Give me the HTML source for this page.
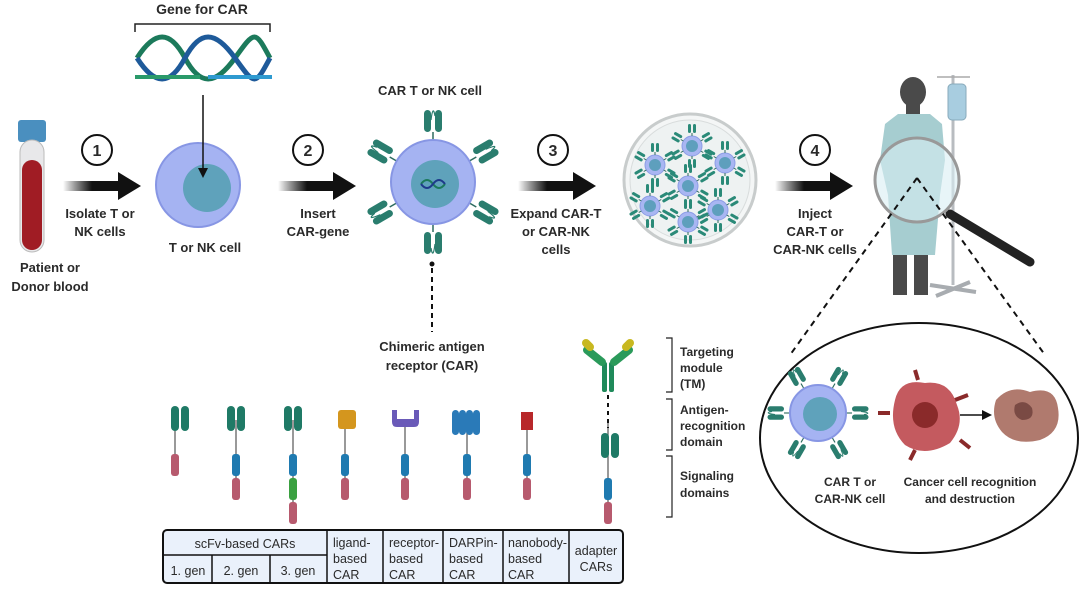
<!DOCTYPE html>
<html><head><meta charset="utf-8"><style>
body{margin:0;background:#fff}
svg text{font-family:"Liberation Sans",sans-serif;font-weight:bold;fill:#2a2a2a}
</style></head><body>
<svg width="1080" height="587" viewBox="0 0 1080 587" xmlns="http://www.w3.org/2000/svg">
<defs>
<linearGradient id="ag" x1="0" x2="1"><stop offset="0" stop-color="#000" stop-opacity="0"/><stop offset="0.5" stop-color="#111"/><stop offset="1" stop-color="#111"/></linearGradient>
<g id="arr"><rect x="0" y="-5" width="58" height="10" fill="url(#ag)"/><polygon points="55,-14 78,0 55,14" fill="#111"/></g>
<g id="rec"><line x1="0" y1="0" x2="0" y2="-8" stroke="#2d6b5f" stroke-width="1.5"/><rect x="-9" y="-30" width="7" height="22" rx="3.5" fill="#2a7d6e"/><rect x="2" y="-30" width="7" height="22" rx="3.5" fill="#2a7d6e"/><path d="M-2,-20 Q0,-36 2,-24" stroke="#2a7d6e" fill="none" stroke-width="1.2"/></g>
<g id="srec"><line x1="0" y1="0" x2="0" y2="-3" stroke="#2d6b5f"/><rect x="-4" y="-12" width="3" height="9" rx="1.5" fill="#2a8a78"/><rect x="1" y="-12" width="3" height="9" rx="1.5" fill="#2a8a78"/></g>
<g id="mini"><circle r="10" fill="#a8b6f2" stroke="#8c9ce6"/><circle r="6" fill="#5e9fbd"/><use href="#srec" transform="translate(0,-10)"/><use href="#srec" transform="rotate(60) translate(0,-10)"/><use href="#srec" transform="rotate(120) translate(0,-10)"/><use href="#srec" transform="rotate(180) translate(0,-10)"/><use href="#srec" transform="rotate(240) translate(0,-10)"/><use href="#srec" transform="rotate(300) translate(0,-10)"/></g>
</defs>

<!-- blood tube -->
<rect x="18" y="120" width="28" height="22" rx="3" fill="#4a8fbf"/>
<rect x="20" y="140" width="24" height="112" rx="12" fill="#e8e8ea" stroke="#bbb"/>
<rect x="22" y="160" width="20" height="90" rx="10" fill="#a01c24"/>
<text x="50" y="272" font-size="13" text-anchor="middle">Patient or</text>
<text x="50" y="291" font-size="13" text-anchor="middle">Donor blood</text>

<!-- step 1 -->
<circle cx="97" cy="150" r="15" fill="#fff" stroke="#111" stroke-width="2"/><text x="97" y="156" font-size="16" font-weight="normal" text-anchor="middle">1</text>
<use href="#arr" transform="translate(63,186)"/>
<text x="100" y="218" font-size="13" text-anchor="middle">Isolate T or</text>
<text x="100" y="236" font-size="13" text-anchor="middle">NK cells</text>

<!-- gene -->
<text x="202" y="14" font-size="14" text-anchor="middle">Gene for CAR</text>
<path d="M135,32 V24 H270 V32" fill="none" stroke="#222" stroke-width="1.5"/>
<path d="M137,58 C155,30 170,30 185,58 S215,86 235,58 S255,30 270,58" stroke="#1c7a5b" stroke-width="5" fill="none"/>
<path d="M137,58 C155,86 170,86 185,58 S215,30 235,58 S255,86 270,58" stroke="#1e5a9a" stroke-width="5" fill="none"/>
<rect x="135" y="75" width="65" height="4" fill="#2a9a6a"/><rect x="208" y="75" width="64" height="4" fill="#2e9ad0"/>

<!-- T cell -->
<circle cx="198" cy="185" r="42" fill="#a5b3f2" stroke="#8796e4" stroke-width="2"/>
<circle cx="207" cy="188" r="24" fill="#5fa2bb"/>
<line x1="203" y1="95" x2="203" y2="172" stroke="#111" stroke-width="1.5"/><polygon points="198,168 208,168 203,178" fill="#111"/>
<text x="205" y="252" font-size="13" text-anchor="middle">T or NK cell</text>

<!-- step 2 -->
<circle cx="308" cy="150" r="15" fill="#fff" stroke="#111" stroke-width="2"/><text x="308" y="156" font-size="16" font-weight="normal" text-anchor="middle">2</text>
<use href="#arr" transform="translate(278,186)"/>
<text x="318" y="218" font-size="13" text-anchor="middle">Insert</text>
<text x="318" y="236" font-size="13" text-anchor="middle">CAR-gene</text>

<!-- CAR T cell -->
<text x="430" y="95" font-size="13" text-anchor="middle">CAR T or NK cell</text>
<g transform="translate(433,182)">
<use href="#rec" transform="translate(0,-42)"/>
<use href="#rec" transform="rotate(60) translate(0,-42)"/>
<use href="#rec" transform="rotate(120) translate(0,-42)"/>
<use href="#rec" transform="rotate(180) translate(0,-42)"/>
<use href="#rec" transform="rotate(240) translate(0,-42)"/>
<use href="#rec" transform="rotate(300) translate(0,-42)"/>
<circle r="42" fill="#a5b3f2" stroke="#8796e4" stroke-width="2"/>
<circle cx="2" cy="2" r="24" fill="#5fa2bb"/>
<path d="M-12,2 q6,-8 12,0 t12,0" stroke="#1c7a5b" stroke-width="2" fill="none"/><path d="M-12,2 q6,8 12,0 t12,0" stroke="#1e3a8a" stroke-width="2" fill="none"/>
</g>
<circle cx="432" cy="264" r="2.5" fill="#111"/>
<line x1="432" y1="268" x2="432" y2="332" stroke="#111" stroke-width="2" stroke-dasharray="5,4"/>
<text x="432" y="351" font-size="13" text-anchor="middle">Chimeric antigen</text>
<text x="432" y="370" font-size="13" text-anchor="middle">receptor (CAR)</text>

<!-- step 3 -->
<circle cx="553" cy="150" r="15" fill="#fff" stroke="#111" stroke-width="2"/><text x="553" y="156" font-size="16" font-weight="normal" text-anchor="middle">3</text>
<use href="#arr" transform="translate(518,186)"/>
<text x="556" y="218" font-size="13" text-anchor="middle">Expand CAR-T</text>
<text x="556" y="236" font-size="13" text-anchor="middle">or CAR-NK</text>
<text x="556" y="254" font-size="13" text-anchor="middle">cells</text>

<!-- petri -->
<circle cx="690" cy="180" r="66" fill="#f4f6f6" stroke="#c8cccc" stroke-width="3"/>
<circle cx="690" cy="180" r="60" fill="#eef2f2" stroke="#d8dcdc"/>
<use href="#mini" transform="translate(655,165)"/><use href="#mini" transform="translate(692,146)"/><use href="#mini" transform="translate(688,186)"/>
<use href="#mini" transform="translate(650,206)"/><use href="#mini" transform="translate(718,210)"/><use href="#mini" transform="translate(725,163)"/><use href="#mini" transform="translate(688,222)"/>

<!-- step 4 -->
<circle cx="815" cy="150" r="15" fill="#fff" stroke="#111" stroke-width="2"/><text x="815" y="156" font-size="16" font-weight="normal" text-anchor="middle">4</text>
<use href="#arr" transform="translate(775,186)"/>
<text x="815" y="218" font-size="13" text-anchor="middle">Inject</text>
<text x="815" y="236" font-size="13" text-anchor="middle">CAR-T or</text>
<text x="815" y="254" font-size="13" text-anchor="middle">CAR-NK cells</text>

<!-- patient -->
<line x1="953" y1="75" x2="953" y2="285" stroke="#b8bcc0" stroke-width="3"/>
<path d="M930,285 L976,292 M936,296 L970,282" stroke="#a8acb0" stroke-width="4"/>
<line x1="937" y1="77" x2="970" y2="77" stroke="#aaa" stroke-width="1.5"/>
<rect x="948" y="84" width="18" height="36" rx="4" fill="#a8cde0" stroke="#8ab"/>
<ellipse cx="913" cy="92" rx="13" ry="15" fill="#4a4a4a"/>
<rect x="906" y="103" width="14" height="12" fill="#4a4a4a"/>
<path d="M898,114 L930,114 L942,124 L945,160 L940,195 L935,255 L892,255 L888,195 L880,160 L885,124 Z" fill="#a6cdd0"/>
<rect x="893" y="255" width="14" height="40" fill="#4a4a4a"/><rect x="914" y="255" width="14" height="40" fill="#4a4a4a"/>
<line x1="950" y1="214" x2="1030" y2="262" stroke="#222" stroke-width="9" stroke-linecap="round"/>
<circle cx="917" cy="180" r="42" fill="#d8eef4" fill-opacity="0.6" stroke="#999" stroke-width="3"/>
<path d="M917,178 L790,355 M917,178 L1045,355" stroke="#111" stroke-width="2" stroke-dasharray="6,5"/>

<!-- ellipse -->
<ellipse cx="919" cy="438" rx="159" ry="115" fill="#fff" stroke="#111" stroke-width="2"/>
<g transform="translate(818,413)">
<use href="#rec" transform="rotate(-30) translate(0,-28) scale(0.75)"/>
<use href="#rec" transform="rotate(30) translate(0,-28) scale(0.75)"/>
<use href="#rec" transform="rotate(90) translate(0,-28) scale(0.75)"/>
<use href="#rec" transform="rotate(150) translate(0,-28) scale(0.75)"/>
<use href="#rec" transform="rotate(210) translate(0,-28) scale(0.75)"/>
<use href="#rec" transform="rotate(270) translate(0,-28) scale(0.75)"/>
<circle r="28" fill="#a5b3f2" stroke="#8796e4" stroke-width="2"/>
<circle cx="2" cy="1" r="17" fill="#5fa2bb"/>
</g>
<g stroke="#8a2a2a" stroke-width="4"><line x1="918" y1="380" x2="915" y2="370"/><line x1="955" y1="400" x2="968" y2="395"/><line x1="960" y1="440" x2="970" y2="448"/><line x1="915" y1="450" x2="910" y2="460"/><line x1="890" y1="413" x2="878" y2="413"/></g>
<path d="M895,400 Q900,378 925,383 Q950,380 957,405 Q965,425 950,443 Q925,458 905,445 Q888,428 895,400 Z" fill="#c45a5f"/>
<circle cx="925" cy="415" r="13" fill="#8a2a2a"/>
<line x1="960" y1="415" x2="985" y2="415" stroke="#111" stroke-width="1.5"/><polygon points="982,410 992,415 982,420" fill="#111"/>
<path d="M996,400 Q1010,384 1030,392 Q1055,385 1058,408 Q1062,432 1040,440 Q1015,446 1002,432 Q990,418 996,400 Z" fill="#b07a6e"/>
<path d="M1015,405 Q1025,398 1032,408 Q1035,420 1022,420 Q1012,416 1015,405Z" fill="#7a4a44"/>
<text x="850" y="486" font-size="12" text-anchor="middle">CAR T or</text>
<text x="850" y="503" font-size="12" text-anchor="middle">CAR-NK cell</text>
<text x="970" y="486" font-size="12" text-anchor="middle">Cancer cell recognition</text>
<text x="970" y="503" font-size="12" text-anchor="middle">and destruction</text>

<!-- brackets -->
<path d="M666,338 H672 V392 H666 M666,399 H672 V450 H666 M666,456 H672 V517 H666" fill="none" stroke="#222" stroke-width="1.2"/>
<g font-size="12"><text x="680" y="356">Targeting</text><text x="680" y="372">module</text><text x="680" y="388">(TM)</text>
<text x="680" y="414">Antigen-</text><text x="680" y="430">recognition</text><text x="680" y="446">domain</text>
<text x="680" y="480">Signaling</text><text x="680" y="497">domains</text></g>

<!-- CAR variants -->
<g stroke="#555" stroke-width="1.2">
<line x1="175" y1="420" x2="175" y2="455"/><line x1="236" y1="420" x2="236" y2="495"/><line x1="293" y1="420" x2="293" y2="520"/>
<line x1="345" y1="420" x2="345" y2="495"/><line x1="405" y1="420" x2="405" y2="495"/><line x1="467" y1="420" x2="467" y2="495"/><line x1="527" y1="420" x2="527" y2="495"/><line x1="608" y1="420" x2="608" y2="520"/>
</g>
<g fill="#1f7a66">
<rect x="171" y="406" width="8" height="25" rx="4"/><rect x="181" y="406" width="8" height="25" rx="4"/>
<rect x="227" y="406" width="8" height="25" rx="4"/><rect x="237" y="406" width="8" height="25" rx="4"/>
<rect x="284" y="406" width="8" height="25" rx="4"/><rect x="294" y="406" width="8" height="25" rx="4"/>
<rect x="601" y="433" width="8" height="25" rx="4"/><rect x="611" y="433" width="8" height="25" rx="4"/>
</g>
<rect x="338" y="410" width="18" height="19" rx="3" fill="#d4961e"/>
<path d="M392,410 v12 q0,5 5,5 h17 q5,0 5,-5 v-12 h-5 v9 h-17 v-9z" fill="#6a5ab8"/>
<g fill="#2a7ab8"><rect x="452" y="410" width="7" height="25" rx="3.5"/><rect x="459" y="410" width="7" height="25" rx="3.5"/><rect x="466" y="410" width="7" height="25" rx="3.5"/><rect x="473" y="410" width="7" height="25" rx="3.5"/></g>
<path d="M521,412 h12 v18 h-12z" fill="#b8282a"/>
<g fill="#1f7ab0">
<rect x="232" y="454" width="8" height="22" rx="3"/><rect x="289" y="454" width="8" height="22" rx="3"/><rect x="341" y="454" width="8" height="22" rx="3"/><rect x="401" y="454" width="8" height="22" rx="3"/><rect x="463" y="454" width="8" height="22" rx="3"/><rect x="523" y="454" width="8" height="22" rx="3"/><rect x="604" y="478" width="8" height="22" rx="3"/>
</g>
<rect x="289" y="478" width="8" height="22" rx="3" fill="#3aa040"/>
<g fill="#b75a6e">
<rect x="171" y="454" width="8" height="22" rx="3"/><rect x="232" y="478" width="8" height="22" rx="3"/><rect x="289" y="502" width="8" height="22" rx="3"/><rect x="341" y="478" width="8" height="22" rx="3"/><rect x="401" y="478" width="8" height="22" rx="3"/><rect x="463" y="478" width="8" height="22" rx="3"/><rect x="523" y="478" width="8" height="22" rx="3"/><rect x="604" y="502" width="8" height="22" rx="3"/>
</g>
<!-- adapter TM -->
<line x1="608" y1="395" x2="608" y2="428" stroke="#111" stroke-width="2" stroke-dasharray="4,4"/>
<rect x="602" y="362" width="5" height="30" rx="2" fill="#1f8a5a"/><rect x="609" y="362" width="5" height="30" rx="2" fill="#1f8a5a"/>
<path d="M587,350 l15,12" stroke="#2a9a5a" stroke-width="8" stroke-linecap="round"/><path d="M629,350 l-15,12" stroke="#2a9a5a" stroke-width="8" stroke-linecap="round"/>
<path d="M586,343 l4,4" stroke="#c8b820" stroke-width="8" stroke-linecap="round"/><path d="M630,343 l-4,4" stroke="#c8b820" stroke-width="8" stroke-linecap="round"/>

<!-- table -->
<rect x="163" y="530" width="460" height="53" rx="4" fill="#eaf1fb" stroke="#111" stroke-width="2"/>
<g stroke="#111" stroke-width="1.5">
<line x1="163" y1="555" x2="327" y2="555"/>
<line x1="212" y1="555" x2="212" y2="583"/><line x1="270" y1="555" x2="270" y2="583"/>
<line x1="327" y1="530" x2="327" y2="583"/><line x1="383" y1="530" x2="383" y2="583"/><line x1="443" y1="530" x2="443" y2="583"/><line x1="503" y1="530" x2="503" y2="583"/><line x1="569" y1="530" x2="569" y2="583"/>
</g>
<g font-size="12.5" style="font-weight:normal">
<text x="245" y="548" text-anchor="middle" style="font-weight:normal">scFv-based CARs</text>
<text x="188" y="575" text-anchor="middle" style="font-weight:normal">1. gen</text><text x="241" y="575" text-anchor="middle" style="font-weight:normal">2. gen</text><text x="298" y="575" text-anchor="middle" style="font-weight:normal">3. gen</text>
<text x="333" y="547" style="font-weight:normal">ligand-</text><text x="333" y="563" style="font-weight:normal">based</text><text x="333" y="579" style="font-weight:normal">CAR</text>
<text x="389" y="547" style="font-weight:normal">receptor-</text><text x="389" y="563" style="font-weight:normal">based</text><text x="389" y="579" style="font-weight:normal">CAR</text>
<text x="449" y="547" style="font-weight:normal">DARPin-</text><text x="449" y="563" style="font-weight:normal">based</text><text x="449" y="579" style="font-weight:normal">CAR</text>
<text x="508" y="547" style="font-weight:normal">nanobody-</text><text x="508" y="563" style="font-weight:normal">based</text><text x="508" y="579" style="font-weight:normal">CAR</text>
<text x="596" y="555" text-anchor="middle" style="font-weight:normal">adapter</text><text x="596" y="571" text-anchor="middle" style="font-weight:normal">CARs</text>
</g>
</svg>
</body></html>
